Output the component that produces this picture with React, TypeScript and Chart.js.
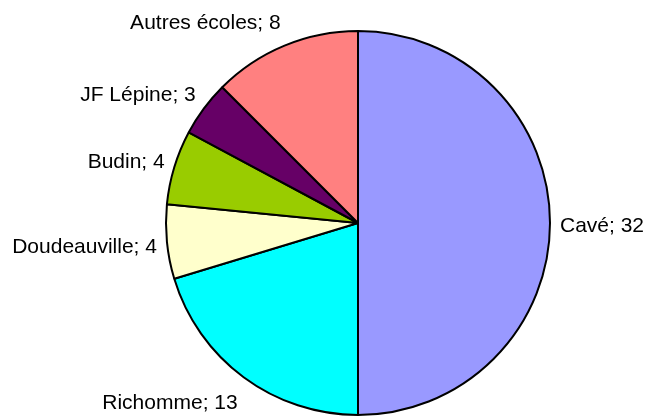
import React, { useEffect, useRef } from "react";
import { Chart, registerables } from "chart.js";

Chart.register(...registerables);

const categories = ["Cavé", "Richomme", "Doudeauville", "Budin", "JF Lépine", "Autres écoles"];
const values = [32, 13, 4, 4, 3, 8];
const colors = ["#9999FF", "#00FFFF", "#FFFFCC", "#99CC00", "#660066", "#FF8080"];

const labelPlugin = {
  id: "outsideLabels",
  afterDatasetsDraw(chart: any) {
    const ctx = chart.ctx;
    const meta = chart.getDatasetMeta(0);
    ctx.save();
    ctx.font = "21px 'Liberation Sans', Arial, sans-serif";
    ctx.fillStyle = "#000000";
    ctx.textBaseline = "middle";
    meta.data.forEach((arc: any, i: number) => {
      const mid = (arc.startAngle + arc.endAngle) / 2;
      const dx = Math.cos(mid);
      const dy = Math.sin(mid);
      const rx = arc.outerRadius + 10;
      const ry = arc.outerRadius + 28;
      const x = arc.x + dx * rx;
      const y = arc.y + dy * ry + 3;
      ctx.textAlign = dx > 0.1 ? "left" : dx < -0.1 ? "right" : "center";
      ctx.fillText(`${categories[i]}; ${values[i]}`, x, y);
    });
    ctx.restore();
  },
};

export default function App() {
  const ref = useRef<HTMLCanvasElement | null>(null);
  useEffect(() => {
    document.body.style.margin = "0";
    const chart = new Chart(ref.current!, {
      type: "pie",
      data: {
        labels: categories,
        datasets: [
          {
            data: values,
            backgroundColor: colors,
            borderColor: "#000000",
            borderWidth: 2,
          },
        ],
      },
      options: {
        responsive: false,
        animation: false,
        layout: { padding: { left: 165, right: 99, top: 30, bottom: 0 } },
        plugins: {
          legend: { display: false },
          tooltip: { enabled: false },
        },
      },
      plugins: [labelPlugin],
    });
    return () => chart.destroy();
  }, []);
  return (
    <div style={{ position: "absolute", left: 0, top: 0, width: 650, height: 416, background: "#fff" }}>
      <canvas ref={ref} width={650} height={416} />
    </div>
  );
}
